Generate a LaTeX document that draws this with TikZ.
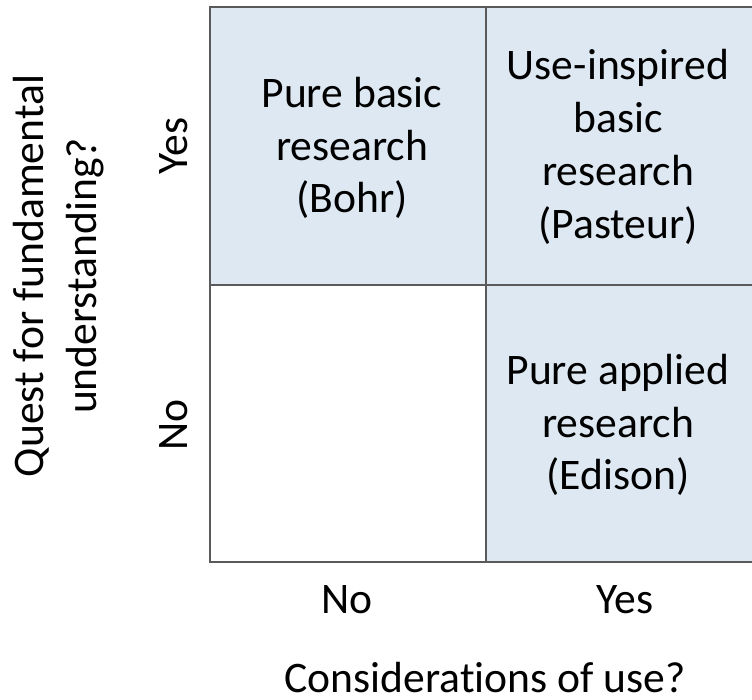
\documentclass[tikz,border=0pt]{standalone}
\usepackage{fontspec}
\setmainfont[Ligatures=NoCommon]{Carlito}
\definecolor{cellblue}{HTML}{DEE8F2}
\definecolor{gridgray}{HTML}{5A5A5A}
\begin{document}
\begin{tikzpicture}[x=0.75pt,y=-0.75pt,
  lbl/.style={font=\fontsize{32.7}{39.6}\selectfont, inner sep=0pt, align=center, text=black},
  gridline/.style={draw=gridgray, line width=1.5pt, line cap=rect}]
\useasboundingbox (0,0) rectangle (752,699);
% grid corners
\coordinate (tlc) at (210,7);
\coordinate (tmc) at (486,7);
\coordinate (trc) at (752,7);
\coordinate (mlc) at (210,285);
\coordinate (mmc) at (486,285);
\coordinate (mrc) at (752,285);
\coordinate (blc) at (210,562);
\coordinate (bmc) at (486,562);
\coordinate (brc) at (752,562);
% shaded cells
\fill[cellblue] (tlc) rectangle (mmc);
\fill[cellblue] (tmc) rectangle (mrc);
\fill[cellblue] (mmc) rectangle (brc);
% grid lines
\draw[gridline] (trc) -- (tlc) -- (blc) -- (brc);
\draw[gridline] (tmc) -- (bmc);
\draw[gridline] (mlc) -- (mrc);
% cell texts
\node[lbl] (tl) at (352,148) {Pure basic\\research\\(Bohr)};
\node[lbl] (tr) at (618,147) {Use-inspired\\basic\\research\\(Pasteur)};
\node[lbl] (br) at (618,425) {Pure applied\\research\\(Edison)};
% axis labels
\node[lbl, rotate=90, anchor=base] (yyes) at (187,146) {Yes};
\node[lbl, rotate=90, anchor=base] (yno) at (187,425) {No};
\node[lbl, rotate=90] (ytitle) at (59,276) {Quest for fundamental\\understanding?};
\node[lbl, anchor=base] (xno) at (347,613) {No};
\node[lbl, anchor=base] (xyes) at (625,613) {Yes};
\node[lbl, anchor=base] (xtitle) at (485,692) {Considerations of use?};
\end{tikzpicture}
\end{document}
